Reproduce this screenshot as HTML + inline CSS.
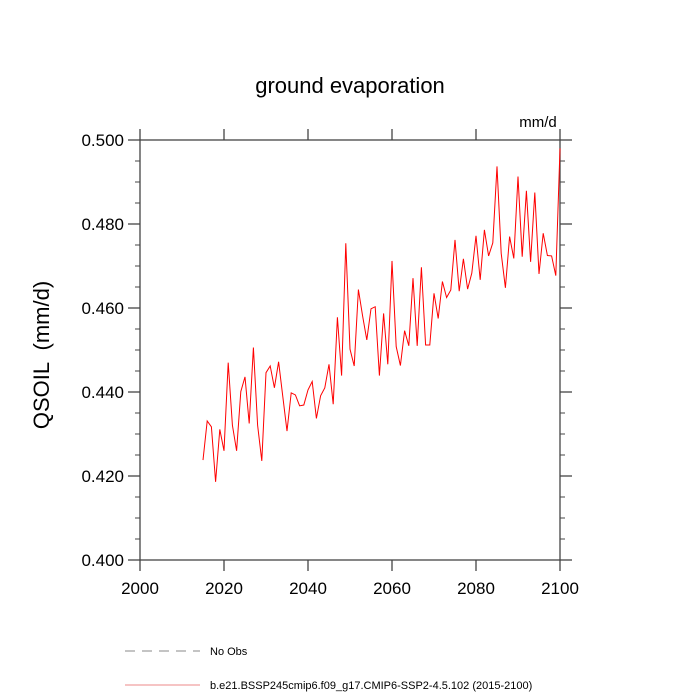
<!DOCTYPE html>
<html><head><meta charset="utf-8"><style>
html,body{margin:0;padding:0;background:#fff;}
svg{display:block;font-family:"Liberation Sans",sans-serif;}
</style></head><body>
<svg id="chart" width="700" height="700" viewBox="0 0 700 700">
<text x="350" y="93" text-anchor="middle" font-size="22">ground evaporation</text>
<text x="538" y="127" text-anchor="middle" font-size="15">mm/d</text>
<text transform="translate(49,355) rotate(-90)" text-anchor="middle" font-size="22" style="white-space:pre">QSOIL  (mm/d)</text>
<g id="axes"></g>
<g id="series"></g>
<line x1="125" y1="651" x2="200" y2="651" stroke="#888" stroke-width="1" stroke-dasharray="10,7"/>
<text x="210" y="655" font-size="11">No Obs</text>
<line x1="125" y1="685" x2="200" y2="685" stroke="#e88" stroke-width="1"/>
<text x="210" y="689" font-size="11">b.e21.BSSP245cmip6.f09_g17.CMIP6-SSP2-4.5.102 (2015-2100)</text>
</svg>
<script>
const startYear = 2015;
const values = [0.4238,0.4331,0.4317,0.4186,0.4311,0.4260,0.4470,0.4321,0.4260,0.4401,0.4436,0.4325,0.4506,0.4321,0.4236,0.4446,0.4462,0.4410,0.4472,0.4389,0.4307,0.4398,0.4393,0.4367,0.4369,0.4405,0.4425,0.4337,0.4391,0.4410,0.4466,0.4371,0.4578,0.4439,0.4754,0.4502,0.4462,0.4644,0.4581,0.4524,0.4598,0.4603,0.4439,0.4587,0.4466,0.4712,0.4508,0.4463,0.4546,0.4510,0.4671,0.4510,0.4697,0.4512,0.4512,0.4635,0.4575,0.4663,0.4625,0.4643,0.4762,0.4640,0.4717,0.4645,0.4683,0.4772,0.4667,0.4786,0.4724,0.4755,0.4937,0.4730,0.4648,0.4770,0.4718,0.4913,0.4722,0.4879,0.4710,0.4875,0.4681,0.4778,0.4725,0.4724,0.4677,0.4980];
const xTicks = [2000,2020,2040,2060,2080,2100];
const yTicks = [0.400,0.420,0.440,0.460,0.480,0.500];
const xMin=2000,xMax=2100,yMin=0.4,yMax=0.5;
const L=140,R=560,T=140,B=560;
const sx=v=>L+(v-xMin)/(xMax-xMin)*(R-L);
const sy=v=>B-(v-yMin)/(yMax-yMin)*(B-T);
const NS="http://www.w3.org/2000/svg";
const axes=document.getElementById('axes');
const AX='#444';
function mk(tag,attrs,parent){const e=document.createElementNS(NS,tag);for(const k in attrs)e.setAttribute(k,attrs[k]);parent.appendChild(e);return e;}
const frame=mk('rect',{x:L,y:T,width:R-L,height:B-T,fill:'none',stroke:AX,'stroke-width':1.3},axes);


xTicks.forEach(v=>{const x=sx(v);
 const t1=mk('line',{x1:x,y1:B,x2:x,y2:B+11,stroke:AX,'stroke-width':1.3},axes);
 
 
 const t2=mk('line',{x1:x,y1:T,x2:x,y2:T-11,stroke:AX,'stroke-width':1.3},axes);
 
 });
for(let i=0;i<=20;i++){const v=yMin+i*0.005;const y=sy(v);const major=(i%4===0);const len=major?12:5;
 const t1=mk('line',{x1:L,y1:y,x2:L-len,y2:y,stroke:AX,'stroke-width':major?1.3:1},axes);
 
 
 const t2=mk('line',{x1:R,y1:y,x2:R+len,y2:y,stroke:AX,'stroke-width':major?1.3:1},axes);
 
 }
xTicks.forEach(v=>{const t=mk('text',{x:sx(v),y:B+34,'text-anchor':'middle','font-size':17},axes);t.textContent=String(v);
 
 });
yTicks.forEach(v=>{const t=mk('text',{x:L-16,y:sy(v)+6,'text-anchor':'end','font-size':17},axes);t.textContent=v.toFixed(3);
 
 });
const pts=values.map((v,i)=>sx(startYear+i).toFixed(2)+','+sy(v).toFixed(2)).join(' ');
const line=mk('polyline',{points:pts,fill:'none',stroke:'#ff0000','stroke-width':1},document.getElementById('series'));


</script>
</body></html>
